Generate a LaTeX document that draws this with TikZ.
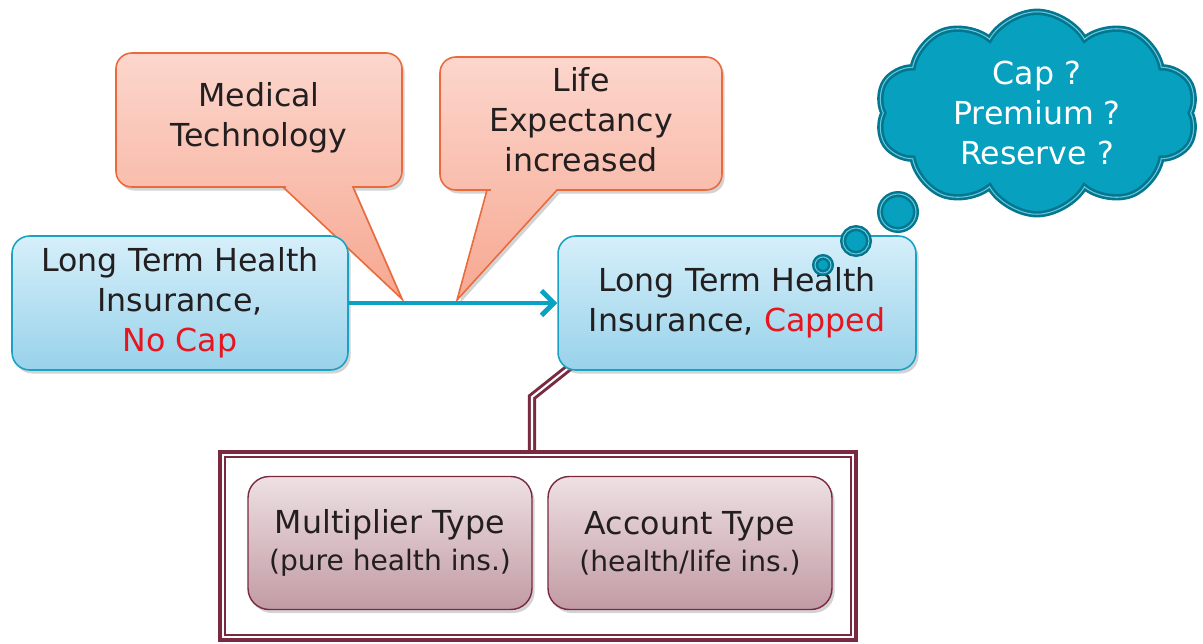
\documentclass[tikz,border=0pt]{standalone}
\usepackage{fontspec}
\setmainfont{DejaVu Sans}
\usepackage{tikz}
\usetikzlibrary{arrows.meta}
\usetikzlibrary{shapes.symbols}
\usetikzlibrary{shadows,backgrounds}
\usetikzlibrary{positioning,calc}

\definecolor{inktext}{HTML}{231F20}
\definecolor{capred}{HTML}{E8141E}
\definecolor{boxedge}{HTML}{1BA1C4}
\definecolor{boxtop}{HTML}{D6EFFA}
\definecolor{boxbottom}{HTML}{98D2EA}
\definecolor{flowteal}{HTML}{0AA2C2}
\definecolor{calloutedge}{HTML}{EA6A3C}
\definecolor{callouttop}{HTML}{FCD6CD}
\definecolor{calloutbottom}{HTML}{F6A891}
\definecolor{cloudfill}{HTML}{07A0BF}
\definecolor{cloudedge}{HTML}{03778F}
\definecolor{maroon}{HTML}{7A2A40}
\definecolor{typetop}{HTML}{EDE0E3}
\definecolor{typebottom}{HTML}{C29BA4}

\tikzset{
    softshadow/.style={drop shadow={opacity=0.35, shadow xshift=1.5pt, shadow yshift=-2pt}},
    healthbox/.style={draw=boxedge, line width=0.9pt, rounded corners=10pt,
        top color=boxtop, bottom color=boxbottom, text=inktext, align=center,
        minimum height=2.68cm, softshadow},
    callout/.style={draw=calloutedge, line width=0.9pt,
        top color=callouttop, bottom color=calloutbottom, softshadow},
    bubbletext/.style={align=center, text=inktext},
    flow/.style={draw=flowteal, line width=2.8pt,
        -{Straight Barb[length=7pt, width=14pt, line width=2.8pt]}},
    thought/.style={cloud, cloud puffs=10, cloud puff arc=120, aspect=1.6,
        fill=cloudfill, draw=cloudedge, line width=1.5pt,
        double=cloudfill!60!white, double distance=0.6pt,
        text=white, align=center, inner sep=0pt},
    puff/.style={circle, fill=cloudfill, draw=cloudedge, line width=1.4pt,
        double=cloudfill!60!white, double distance=0.6pt, inner sep=0pt},
    familyframe/.style={draw=maroon, line width=2.2pt, minimum width=12.72cm,
        minimum height=3.76cm, inner sep=0pt},
    typebox/.style={draw=maroon, line width=0.8pt, rounded corners=12pt,
        top color=typetop, bottom color=typebottom, text=inktext, align=center,
        minimum width=5.68cm, minimum height=2.66cm, softshadow},
    framelink/.style={draw=maroon, line width=1.7pt, double=white,
        double distance=1.2pt},
}

\begin{document}
\begin{tikzpicture}[x=0.02cm, y=-0.02cm, font=\fontsize{18}{22.7}\selectfont]
	\useasboundingbox (0,0) rectangle (1203,643);
	% the two speech bubbles pointing at the arrow
	\path[callout] (283,187) -- (402,299) -- (353,187) -- (370,187)
		[rounded corners=9pt] -- (402,187) -- (402,53) -- (116,53) -- (116,187)
		-- (270,187) [sharp corners] -- cycle;
	\node[bubbletext] (medtech) at (259,118) {Medical\\Technology};
	\path[callout] (487,190) -- (457,300) -- (557,190) -- (570,190)
		[rounded corners=9pt] -- (722,190) -- (722,57) -- (440,57) -- (440,190)
		-- (475,190) [sharp corners] -- cycle;
	\node[bubbletext] (lifeexp) at (581,120) {Life\\Expectancy\\increased};
	% before and after
	\node[healthbox, minimum width=6.72cm] (nocap) at (180,303)
		{Long Term Health\\Insurance,\\\textcolor{capred}{No Cap}};
	\node[healthbox, minimum width=7.16cm] (capped) at (737,303)
		{Long Term Health\\Insurance, \textcolor{capred}{Capped}};
	\draw[flow] (nocap.east) -- (capped.west);
	% open questions
	\node[thought, minimum width=6.4cm, minimum height=4.05cm] (questions) at (1037,113)
		{Cap ?\\Premium ?\\Reserve ?};
	\node[puff, minimum size=0.72cm] (puffa) at (898,212) {};
	\node[puff, minimum size=0.52cm] (puffb) at (856,241) {};
	\node[puff, minimum size=0.32cm] (puffc) at (823,265) {};
	% the two product types
	\node[familyframe] (family) at (538,546) {};
	\draw[maroon, line width=0.9pt] ([shift={(7,7)}]family.north west)
		rectangle ([shift={(-7,-7)}]family.south east);
	\node[typebox] (multi) at (390,543)
		{Multiplier Type\\[-1.7pt]{\fontsize{16}{21}\selectfont (pure health ins.)}};
	\node[typebox] (acct) at (690,543)
		{Account Type\\[-1.7pt]{\fontsize{16}{21}\selectfont (health/life ins.)}};
	\coordinate (bend) at (532,397);
	\begin{scope}[on background layer]
		\draw[framelink] ([shift={(14,-5)}]capped.south west) -- (bend)
			-- (bend |- family.north);
	\end{scope}
\end{tikzpicture}
\end{document}
